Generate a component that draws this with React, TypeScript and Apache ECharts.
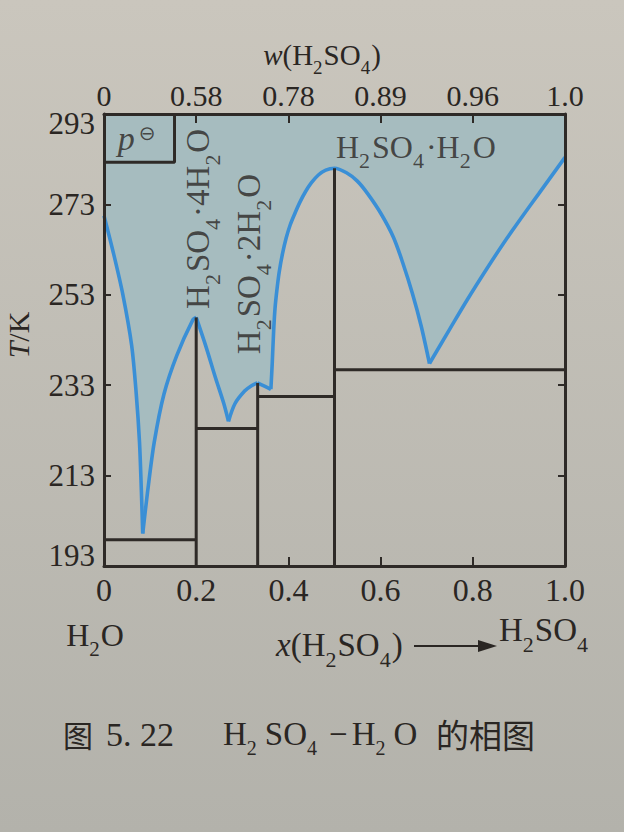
import React, { useEffect, useRef } from "react";
import * as echarts from "echarts";

// ---------- data ----------
const xTickValues = [0, 0.2, 0.4, 0.6, 0.8, 1.0];
const xTickLabels = ["0", "0.2", "0.4", "0.6", "0.8", "1.0"];
const wTickLabels = ["0", "0.58", "0.78", "0.89", "0.96", "1.0"];
const tTickValues = [193, 213, 233, 253, 273, 293];
const innerTopTicks = [0.2, 0.4, 0.6, 0.8];
const innerBottomTicks = [0.4, 0.6, 0.8];
const innerTTicks = [213, 233, 253, 273];

// liquidus branches [x(H2SO4), T/K], each running between two cusps
const iceBranch: [number, number][] = [
  [0, 270.5], [0.021, 262.0], [0.041, 253.0], [0.06, 241.8], [0.07, 231.0],
  [0.077, 220.4], [0.081, 209.8], [0.084, 200.2],
];
const tetraRise: [number, number][] = [
  [0.084, 200.2], [0.095, 209.8], [0.109, 220.4], [0.13, 231.0], [0.158, 239.6],
  [0.193, 247.5], [0.2, 248.0],
];
const tetraFall: [number, number][] = [
  [0.2, 248.0], [0.221, 241.6], [0.242, 234.6], [0.26, 228.9], [0.27, 225.0],
];
const diRise: [number, number][] = [
  [0.27, 225.0], [0.284, 228.9], [0.305, 231.7], [0.32, 232.9], [0.333, 233.5],
];
const diFall: [number, number][] = [
  [0.333, 233.5], [0.348, 232.8], [0.362, 232.1],
];
const monoBranch: [number, number][] = [
  [0.362, 232.1], [0.365, 238.0], [0.368, 245.0], [0.371, 250.0], [0.375, 254.0],
  [0.38, 258.0], [0.387, 262.0], [0.395, 265.5], [0.404, 268.5], [0.414, 271.0],
  [0.425, 273.5], [0.437, 275.8], [0.45, 277.8], [0.465, 279.5], [0.481, 280.6],
  [0.5, 281.0], [0.526, 280.0], [0.549, 278.2], [0.571, 275.5], [0.6, 271.1],
  [0.628, 265.7], [0.648, 260.1], [0.669, 253.3], [0.688, 246.1], [0.706, 237.8],
];
const acidBranch: [number, number][] = [
  [0.706, 237.8], [0.75, 245.4], [0.788, 251.9], [0.83, 258.7], [0.866, 264.3],
  [0.905, 270.0], [0.944, 275.5], [1.0, 283.4],
];
const liquidusBranches = [iceBranch, tetraRise, tetraFall, diRise, diFall, monoBranch, acidBranch];

// solid phase lines
const eutecticLines: [number, number, number][] = [
  // [xStart, xEnd, T]
  [0, 0.2, 198.8],
  [0.2, 1 / 3, 223.4],
  [1 / 3, 0.5, 230.5],
  [0.5, 1.0, 236.4],
];
const compoundLines: [number, number, number][] = [
  // [x, Tbottom, Ttop]
  [0.2, 193, 248.0],
  [1 / 3, 193, 233.5],
  [0.5, 193, 281.0],
];
const standardBox: [number, number][] = [[0, 282.3], [0.153, 282.3], [0.153, 293]];

// labels [x, T]
const tetraLabelPos: [number, number] = [0.204, 269.8];
const diLabelPos: [number, number] = [0.315, 259.8];
const monoLabelPos: [number, number] = [0.503, 285.6];
const pLabelPos: [number, number] = [0.071, 287.6];

// ---------- style ----------
const SERIF = '"Liberation Serif", "Times New Roman", serif';
const CJK = '"Noto Sans CJK SC", sans-serif';
const INK = "#2a2623";
const LINE = "#2e2a27";
const BLUE = "#3a8fd6";
const SHADE = "#a6bcbf";

function chemRich(size: number, subRatio = 0.66, subPadRight = 0) {
  const sub = Math.round(size * subRatio);
  return {
    n: { fontSize: size, fontFamily: SERIF, color: INK, fill: INK },
    i: { fontSize: size, fontFamily: SERIF, color: INK, fill: INK, fontStyle: "italic" },
    s: {
      fontSize: sub, fontFamily: SERIF, color: INK, fill: INK,
      padding: [Math.round(size * 0.85), subPadRight, 0, 0],
    },
    m: { fontSize: size, fontFamily: SERIF, color: INK, fill: INK, padding: [0, 4, 0, 4] },
    c: { fontSize: size, fontFamily: CJK, color: INK, fill: INK },
  };
}

const H2SO4 = "{n|H}{s|2}{n|SO}{s|4}";

export default function App() {
  const ref = useRef<HTMLDivElement>(null);

  useEffect(() => {
    if (!ref.current) return;
    const chart = echarts.init(ref.current, undefined, { renderer: "svg" });

    const curve: [number, number][] = [];
    liquidusBranches.forEach((b, i) => curve.push(...(i === 0 ? b : b.slice(1))));

    const lineSeries: any[] = [];
    // shaded liquid region (above the liquidus)
    lineSeries.push({
      type: "line", data: curve, symbol: "none", silent: true, z: 2,
      lineStyle: { width: 0, opacity: 0 },
      areaStyle: { color: SHADE, opacity: 1, origin: "end" },
    });
    // liquidus curve, one smooth branch between cusps
    liquidusBranches.forEach((b) => {
      lineSeries.push({
        type: "line", data: b, symbol: "none", silent: true, z: 3, smooth: 0.3,
        lineStyle: { color: BLUE, width: 3.6 },
      });
    });
    eutecticLines.forEach(([x0, x1, t]) => {
      lineSeries.push({
        type: "line", data: [[x0, t], [x1, t]], symbol: "none", silent: true, z: 4,
        lineStyle: { color: LINE, width: 3 },
      });
    });
    compoundLines.forEach(([x, t0, t1]) => {
      lineSeries.push({
        type: "line", data: [[x, t0], [x, t1]], symbol: "none", silent: true, z: 4,
        lineStyle: { color: LINE, width: 3 },
      });
    });

    const labelSeries = (pos: [number, number], text: string, rich: any, rotate: number, align = "center") => ({
      type: "scatter", data: [pos], symbolSize: 0, silent: true, z: 6,
      label: {
        show: true, position: "inside", formatter: text, rich, rotate,
        align, verticalAlign: "middle",
      },
    });

    const axisLineStyle = { color: LINE, width: 3 };
    const labelFont = { fontFamily: SERIF, color: INK };
    const captionRich = chemRich(33, 0.62, 8);

    const option: any = {
      animation: false,
      backgroundColor: {
        type: "linear", x: 0, y: 0, x2: 0, y2: 1,
        colorStops: [
          { offset: 0, color: "#cac6bd" },
          { offset: 1, color: "#b3b2ab" },
        ],
      },
      grid: { left: 104, right: 59, top: 114, bottom: 266 },
      xAxis: [
        {
          type: "value", min: 0, max: 1, position: "bottom", z: 10,
          axisLine: { show: true, onZero: false, lineStyle: axisLineStyle },
          axisTick: { show: true, inside: true, length: 9, customValues: innerBottomTicks, lineStyle: { color: LINE, width: 2 } },
          axisLabel: {
            ...labelFont, fontSize: 32, margin: 8,
            customValues: xTickValues,
            formatter: (v: number) => xTickLabels[xTickValues.findIndex((t) => Math.abs(t - v) < 1e-6)] ?? "",
          },
          splitLine: { show: false },
        },
        {
          type: "value", min: 0, max: 1, position: "top", z: 10,
          axisLine: { show: true, onZero: false, lineStyle: axisLineStyle },
          axisTick: { show: true, inside: true, length: 9, customValues: innerTopTicks, lineStyle: { color: LINE, width: 2 } },
          axisLabel: {
            ...labelFont, fontSize: 30, margin: 4,
            customValues: xTickValues,
            formatter: (v: number) => wTickLabels[xTickValues.findIndex((t) => Math.abs(t - v) < 1e-6)] ?? "",
          },
          splitLine: { show: false },
        },
      ],
      yAxis: [
        {
          type: "value", min: 193, max: 293, position: "left", z: 10,
          axisLine: { show: true, onZero: false, lineStyle: axisLineStyle },
          axisTick: { show: true, inside: true, length: 7, customValues: innerTTicks, lineStyle: { color: LINE, width: 2 } },
          axisLabel: {
            margin: 9,
            customValues: tTickValues,
            formatter: (v: number) => (v === 293 ? `{top|${v}}` : v === 193 ? `{bot|${v}}` : `{n|${v}}`),
            rich: {
              n: { ...labelFont, fontSize: 31 },
              top: { ...labelFont, fontSize: 31, padding: [18, 0, 0, 0] },
              bot: { ...labelFont, fontSize: 31, padding: [0, 0, 22, 0] },
            },
          },
          splitLine: { show: false },
        },
        {
          type: "value", min: 193, max: 293, position: "right", z: 10,
          axisLine: { show: true, onZero: false, lineStyle: axisLineStyle },
          axisTick: { show: true, inside: true, length: 7, customValues: innerTTicks, lineStyle: { color: LINE, width: 2 } },
          axisLabel: { show: false },
          splitLine: { show: false },
        },
      ],
      series: [
        ...lineSeries,
        {
          type: "line", data: standardBox, symbol: "none", silent: true, z: 4,
          lineStyle: { color: LINE, width: 3 },
        },
        labelSeries(tetraLabelPos, `${H2SO4}{n|·4H}{s|2}{n|O}`, chemRich(33, 0.68, 2), 90),
        labelSeries(diLabelPos, `${H2SO4}{n|·2H}{s|2}{n|O}`, chemRich(33, 0.68, 2), 90),
        labelSeries(monoLabelPos, `${H2SO4}{n|·H}{s|2}{n|O}`, chemRich(32, 0.68, 2), 0, "left"),
        labelSeries(pLabelPos, "{i|p}{sup|⊖}", {
          i: { fontSize: 34, fontFamily: SERIF, fontStyle: "italic", color: INK },
          sup: { fontSize: 20, fontFamily: '"DejaVu Sans", sans-serif', color: INK, padding: [0, 0, 10, 4] },
        }, 0),
      ],
      graphic: [
        {
          type: "text", x: 322, y: 55,
          style: {
            text: `{i|w}{n|(}${H2SO4}{n|)}`, rich: chemRich(29, 0.66, 1),
            align: "center", verticalAlign: "middle",
          },
        },
        {
          type: "text", x: 18, y: 335, rotation: Math.PI / 2,
          style: {
            text: "{i|T}{n|/K}", rich: chemRich(30),
            align: "center", verticalAlign: "middle",
          },
        },
        {
          type: "text", x: 95, y: 635,
          style: {
            text: "{n|H}{s|2}{n|O}", rich: chemRich(32, 0.66, 1),
            align: "center", verticalAlign: "middle",
          },
        },
        {
          type: "text", x: 276, y: 645,
          style: {
            text: `{i|x}{n|(}${H2SO4}{n|)}`, rich: chemRich(33, 0.66, 1),
            align: "left", verticalAlign: "middle",
          },
        },
        {
          type: "line", shape: { x1: 414, y1: 646, x2: 482, y2: 646 },
          style: { stroke: INK, lineWidth: 2.2 },
        },
        {
          type: "polygon", shape: { points: [[478, 640], [497, 646], [478, 652]] },
          style: { fill: INK },
        },
        {
          type: "text", x: 544, y: 630,
          style: {
            text: H2SO4, rich: chemRich(33, 0.66, 1),
            align: "center", verticalAlign: "middle",
          },
        },
        // caption
        {
          type: "text", x: 63, y: 734,
          style: { text: "图", fontSize: 30, fontFamily: CJK, fill: INK, align: "left", verticalAlign: "middle" },
        },
        {
          type: "text", x: 106, y: 734,
          style: { text: "5. 22", fontSize: 34, fontFamily: SERIF, fill: INK, align: "left", verticalAlign: "middle" },
        },
        {
          type: "text", x: 223, y: 734,
          style: {
            text: "{n|H}{s|2}{n|SO}{s|4}{m|−}{n|H}{s|2}{n|O}",
            rich: captionRich, align: "left", verticalAlign: "middle",
          },
        },
        {
          type: "text", x: 436, y: 734,
          style: { text: "的相图", fontSize: 33, fontFamily: CJK, fill: INK, align: "left", verticalAlign: "middle" },
        },
      ],
    };

    chart.setOption(option);
    return () => chart.dispose();
  }, []);

  return (
    <div
      ref={ref}
      style={{ position: "fixed", left: 0, top: 0, width: 624, height: 832 }}
    />
  );
}
